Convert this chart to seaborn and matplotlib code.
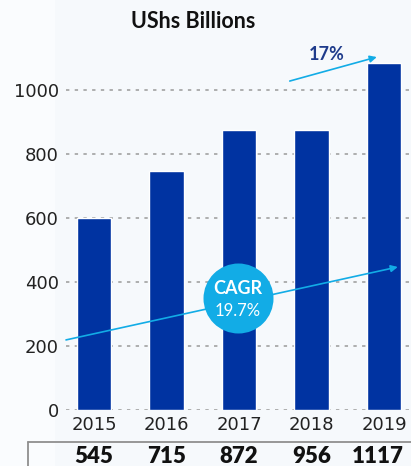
import matplotlib
matplotlib.use("Agg")
import matplotlib.pyplot as plt
import seaborn as sns
import pandas as pd
from matplotlib.patches import Rectangle
from matplotlib.lines import Line2D

years = ["2015", "2016", "2017", "2018", "2019"]
bar_heights = [600, 748, 875, 875, 1085]
table_values = ["545", "715", "872", "956", "1117"]
yticks = [0, 200, 400, 600, 800, 1000]
cagr_label = "19.7%"
growth_label = "17%"

BAR = "#0033A1"
CYAN = "#12ACE6"
BG = "#F6F9FC"

sns.set_theme(style="white")
plt.rcParams["font.family"] = ["DejaVu Sans"]

W, H = 411, 466
fig = plt.figure(figsize=(W / 100, H / 100), dpi=100, facecolor=BG)
fig.patches.append(Rectangle((0, 0), 55 / W, 1, transform=fig.transFigure,
                             facecolor="#FAFCFE", edgecolor="none", zorder=-5))

ax = fig.add_axes([66 / W, (H - 410) / H, (W - 66) / W, 368 / H])
ax.set_facecolor("none")

df = pd.DataFrame({"year": years, "value": bar_heights})
sns.barplot(data=df, x="year", y="value", color=BAR, width=0.47,
            saturation=1, ax=ax, zorder=3)

ax.set_xlim(-0.386, 4.372)
ax.set_ylim(0, 1150)
ax.set_yticks(yticks)
ax.set_yticklabels([str(t) for t in yticks], fontsize=13, color="#222222")
ax.set_xticks(range(len(years)))
ax.set_xticklabels(years, fontsize=13, color="#222222")
ax.tick_params(axis="y", length=0, pad=5)
ax.tick_params(axis="x", length=0, pad=4)
ax.set_xlabel("")
ax.set_ylabel("")
for s in ax.spines.values():
    s.set_visible(False)
for t in yticks:
    ax.axhline(t, color="#9a9a9a", lw=1.1, ls=(0, (2.2, 3.5)), zorder=1)

# CAGR line
ax.annotate("", xy=(4.19, 447), xytext=(-0.386, 219),
            arrowprops=dict(arrowstyle="-|>", color=CYAN, lw=1.2,
                            mutation_scale=10, shrinkA=0, shrinkB=0),
            zorder=5, annotation_clip=False)
ax.scatter([1.986], [350], s=2540, color=CYAN, zorder=6, linewidths=0)
ax.text(1.986, 379, "CAGR", ha="center", va="center", color="white",
        fontsize=13, fontweight="bold", family="Lato", zorder=7)
ax.text(1.986, 310, cagr_label, ha="center", va="center", color="white",
        fontsize=12, family="Lato", zorder=7)

# 17% arrow
ax.annotate("", xy=(3.90, 1103), xytext=(2.70, 1028),
            arrowprops=dict(arrowstyle="-|>", color=CYAN, lw=1.2,
                            mutation_scale=10, shrinkA=0, shrinkB=0),
            zorder=5, annotation_clip=False)
ax.text(3.21, 1112, growth_label, ha="center", va="center", color="#1F3C8C",
        fontsize=13, fontweight="bold", family="Lato", zorder=7)

fig.text(193 / W, 1 - 22 / H, "UShs Billions", ha="center", va="center",
         fontsize=15.5, fontweight="bold", family="Lato", color="#111111")

# table
fig.add_artist(Line2D([28 / W, 1], [1 - 442 / H] * 2, color="#8f8f8f", lw=1.3,
                      transform=fig.transFigure))
fig.add_artist(Line2D([28 / W, 28 / W], [1 - 442 / H, 0], color="#8f8f8f", lw=1.3,
                      transform=fig.transFigure))
for i, v in enumerate(table_values):
    xf = ax.transData.transform((i, 0))[0] / W
    if i == len(table_values) - 1:
        xf -= 6 / W
    fig.text(xf, 1 - 446 / H, v, ha="center", va="top", fontsize=16,
             fontweight="heavy", family="Lato", color="#111111")

fig.savefig("out.png", dpi=100, facecolor=BG)
